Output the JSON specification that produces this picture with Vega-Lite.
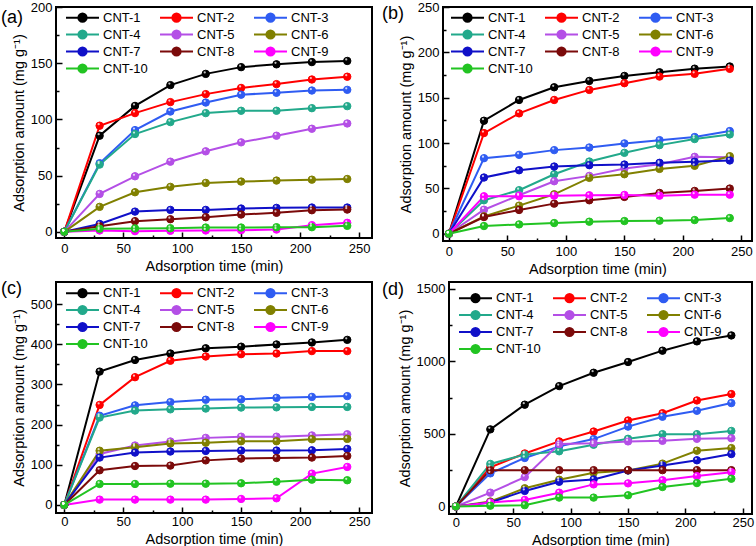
{
"$schema": "https://vega.github.io/schema/vega-lite/v6.json",
"background": "white",
"padding": 0,
"datasets": {
"a": [
{"s":"CNT-1","t":0,"v":0},{"s":"CNT-1","t":30,"v":85.5},{"s":"CNT-1","t":60,"v":112},{"s":"CNT-1","t":90,"v":130.5},{"s":"CNT-1","t":120,"v":140.5},{"s":"CNT-1","t":150,"v":146.5},{"s":"CNT-1","t":180,"v":149},{"s":"CNT-1","t":210,"v":151},{"s":"CNT-1","t":240,"v":152},
{"s":"CNT-2","t":0,"v":0},{"s":"CNT-2","t":30,"v":94.4},{"s":"CNT-2","t":60,"v":105.6},{"s":"CNT-2","t":90,"v":115.4},{"s":"CNT-2","t":120,"v":122.5},{"s":"CNT-2","t":150,"v":128},{"s":"CNT-2","t":180,"v":131.4},{"s":"CNT-2","t":210,"v":135.5},{"s":"CNT-2","t":240,"v":138},
{"s":"CNT-3","t":0,"v":0},{"s":"CNT-3","t":30,"v":61},{"s":"CNT-3","t":60,"v":90.5},{"s":"CNT-3","t":90,"v":107},{"s":"CNT-3","t":120,"v":115},{"s":"CNT-3","t":150,"v":122},{"s":"CNT-3","t":180,"v":123.7},{"s":"CNT-3","t":210,"v":125.7},{"s":"CNT-3","t":240,"v":126.3},
{"s":"CNT-4","t":0,"v":0},{"s":"CNT-4","t":30,"v":59.8},{"s":"CNT-4","t":60,"v":87},{"s":"CNT-4","t":90,"v":97.6},{"s":"CNT-4","t":120,"v":105.6},{"s":"CNT-4","t":150,"v":107.7},{"s":"CNT-4","t":180,"v":107.7},{"s":"CNT-4","t":210,"v":110},{"s":"CNT-4","t":240,"v":111.8},
{"s":"CNT-5","t":0,"v":0},{"s":"CNT-5","t":30,"v":33.7},{"s":"CNT-5","t":60,"v":49.4},{"s":"CNT-5","t":90,"v":62.4},{"s":"CNT-5","t":120,"v":71.6},{"s":"CNT-5","t":150,"v":79.6},{"s":"CNT-5","t":180,"v":85.5},{"s":"CNT-5","t":210,"v":91.7},{"s":"CNT-5","t":240,"v":96.4},
{"s":"CNT-6","t":0,"v":0},{"s":"CNT-6","t":30,"v":22.2},{"s":"CNT-6","t":60,"v":35.2},{"s":"CNT-6","t":90,"v":40},{"s":"CNT-6","t":120,"v":43.5},{"s":"CNT-6","t":150,"v":44.7},{"s":"CNT-6","t":180,"v":45.6},{"s":"CNT-6","t":210,"v":46.4},{"s":"CNT-6","t":240,"v":47},
{"s":"CNT-7","t":0,"v":0},{"s":"CNT-7","t":30,"v":7},{"s":"CNT-7","t":60,"v":18},{"s":"CNT-7","t":90,"v":19.5},{"s":"CNT-7","t":120,"v":19.5},{"s":"CNT-7","t":150,"v":20.7},{"s":"CNT-7","t":180,"v":21.3},{"s":"CNT-7","t":210,"v":21.6},{"s":"CNT-7","t":240,"v":21.6},
{"s":"CNT-8","t":0,"v":0},{"s":"CNT-8","t":30,"v":5},{"s":"CNT-8","t":60,"v":9.5},{"s":"CNT-8","t":90,"v":11.2},{"s":"CNT-8","t":120,"v":13},{"s":"CNT-8","t":150,"v":15.4},{"s":"CNT-8","t":180,"v":16.9},{"s":"CNT-8","t":210,"v":19.2},{"s":"CNT-8","t":240,"v":19.8},
{"s":"CNT-9","t":0,"v":0},{"s":"CNT-9","t":30,"v":1.2},{"s":"CNT-9","t":60,"v":0.6},{"s":"CNT-9","t":90,"v":0.9},{"s":"CNT-9","t":120,"v":1.2},{"s":"CNT-9","t":150,"v":1.5},{"s":"CNT-9","t":180,"v":2},{"s":"CNT-9","t":210,"v":5.9},{"s":"CNT-9","t":240,"v":8},
{"s":"CNT-10","t":0,"v":0},{"s":"CNT-10","t":30,"v":2.7},{"s":"CNT-10","t":60,"v":3},{"s":"CNT-10","t":90,"v":3.2},{"s":"CNT-10","t":120,"v":3.8},{"s":"CNT-10","t":150,"v":3.8},{"s":"CNT-10","t":180,"v":4.1},{"s":"CNT-10","t":210,"v":4.1},{"s":"CNT-10","t":240,"v":5.3}
],
"b": [
{"s":"CNT-1","t":0,"v":0},{"s":"CNT-1","t":30,"v":124.6},{"s":"CNT-1","t":60,"v":147.5},{"s":"CNT-1","t":90,"v":161.5},{"s":"CNT-1","t":120,"v":168.5},{"s":"CNT-1","t":150,"v":174},{"s":"CNT-1","t":180,"v":178},{"s":"CNT-1","t":210,"v":182},{"s":"CNT-1","t":240,"v":184.4},
{"s":"CNT-2","t":0,"v":0},{"s":"CNT-2","t":30,"v":111},{"s":"CNT-2","t":60,"v":132.7},{"s":"CNT-2","t":90,"v":147.5},{"s":"CNT-2","t":120,"v":158.6},{"s":"CNT-2","t":150,"v":166},{"s":"CNT-2","t":180,"v":173.3},{"s":"CNT-2","t":210,"v":176.3},{"s":"CNT-2","t":240,"v":181.8},
{"s":"CNT-3","t":0,"v":0},{"s":"CNT-3","t":30,"v":83.3},{"s":"CNT-3","t":60,"v":87},{"s":"CNT-3","t":90,"v":92.2},{"s":"CNT-3","t":120,"v":95.1},{"s":"CNT-3","t":150,"v":99.6},{"s":"CNT-3","t":180,"v":103.2},{"s":"CNT-3","t":210,"v":106.6},{"s":"CNT-3","t":240,"v":113.2},
{"s":"CNT-4","t":0,"v":0},{"s":"CNT-4","t":30,"v":36.9},{"s":"CNT-4","t":60,"v":48},{"s":"CNT-4","t":90,"v":65.6},{"s":"CNT-4","t":120,"v":79.6},{"s":"CNT-4","t":150,"v":89.2},{"s":"CNT-4","t":180,"v":97.7},{"s":"CNT-4","t":210,"v":104.4},{"s":"CNT-4","t":240,"v":109.5},
{"s":"CNT-5","t":0,"v":0},{"s":"CNT-5","t":30,"v":26.5},{"s":"CNT-5","t":60,"v":42.4},{"s":"CNT-5","t":90,"v":57.9},{"s":"CNT-5","t":120,"v":63.8},{"s":"CNT-5","t":150,"v":71.9},{"s":"CNT-5","t":180,"v":76.7},{"s":"CNT-5","t":210,"v":84.8},{"s":"CNT-5","t":240,"v":84.4},
{"s":"CNT-6","t":0,"v":0},{"s":"CNT-6","t":30,"v":19.2},{"s":"CNT-6","t":60,"v":31},{"s":"CNT-6","t":90,"v":43.5},{"s":"CNT-6","t":120,"v":61.6},{"s":"CNT-6","t":150,"v":65.6},{"s":"CNT-6","t":180,"v":71.5},{"s":"CNT-6","t":210,"v":74.9},{"s":"CNT-6","t":240,"v":85.5},
{"s":"CNT-7","t":0,"v":0},{"s":"CNT-7","t":30,"v":62},{"s":"CNT-7","t":60,"v":70},{"s":"CNT-7","t":90,"v":74.1},{"s":"CNT-7","t":120,"v":75.6},{"s":"CNT-7","t":150,"v":76.3},{"s":"CNT-7","t":180,"v":78.2},{"s":"CNT-7","t":210,"v":79.3},{"s":"CNT-7","t":240,"v":80.8},
{"s":"CNT-8","t":0,"v":0},{"s":"CNT-8","t":30,"v":18.4},{"s":"CNT-8","t":60,"v":26.2},{"s":"CNT-8","t":90,"v":33.2},{"s":"CNT-8","t":120,"v":36.9},{"s":"CNT-8","t":150,"v":40.6},{"s":"CNT-8","t":180,"v":45},{"s":"CNT-8","t":210,"v":47.2},{"s":"CNT-8","t":240,"v":49.8},
{"s":"CNT-9","t":0,"v":0},{"s":"CNT-9","t":30,"v":41.3},{"s":"CNT-9","t":60,"v":41.3},{"s":"CNT-9","t":90,"v":42},{"s":"CNT-9","t":120,"v":42.4},{"s":"CNT-9","t":150,"v":42.8},{"s":"CNT-9","t":180,"v":42},{"s":"CNT-9","t":210,"v":43.1},{"s":"CNT-9","t":240,"v":43.1},
{"s":"CNT-10","t":0,"v":0},{"s":"CNT-10","t":30,"v":8.5},{"s":"CNT-10","t":60,"v":10.3},{"s":"CNT-10","t":90,"v":11.8},{"s":"CNT-10","t":120,"v":13.3},{"s":"CNT-10","t":150,"v":14},{"s":"CNT-10","t":180,"v":14.4},{"s":"CNT-10","t":210,"v":15.1},{"s":"CNT-10","t":240,"v":17.3}
],
"c": [
{"s":"CNT-1","t":0,"v":0},{"s":"CNT-1","t":30,"v":332},{"s":"CNT-1","t":60,"v":361},{"s":"CNT-1","t":90,"v":377},{"s":"CNT-1","t":120,"v":390},{"s":"CNT-1","t":150,"v":394},{"s":"CNT-1","t":180,"v":399.5},{"s":"CNT-1","t":210,"v":404.5},{"s":"CNT-1","t":240,"v":411},
{"s":"CNT-2","t":0,"v":0},{"s":"CNT-2","t":30,"v":249},{"s":"CNT-2","t":60,"v":318},{"s":"CNT-2","t":90,"v":359},{"s":"CNT-2","t":120,"v":369.6},{"s":"CNT-2","t":150,"v":375.4},{"s":"CNT-2","t":180,"v":377},{"s":"CNT-2","t":210,"v":383},{"s":"CNT-2","t":240,"v":383},
{"s":"CNT-3","t":0,"v":0},{"s":"CNT-3","t":30,"v":222},{"s":"CNT-3","t":60,"v":248},{"s":"CNT-3","t":90,"v":256},{"s":"CNT-3","t":120,"v":262},{"s":"CNT-3","t":150,"v":263},{"s":"CNT-3","t":180,"v":266.6},{"s":"CNT-3","t":210,"v":269},{"s":"CNT-3","t":240,"v":271},
{"s":"CNT-4","t":0,"v":0},{"s":"CNT-4","t":30,"v":217.6},{"s":"CNT-4","t":60,"v":235},{"s":"CNT-4","t":90,"v":238},{"s":"CNT-4","t":120,"v":240},{"s":"CNT-4","t":150,"v":242.5},{"s":"CNT-4","t":180,"v":243},{"s":"CNT-4","t":210,"v":244},{"s":"CNT-4","t":240,"v":244},
{"s":"CNT-5","t":0,"v":0},{"s":"CNT-5","t":30,"v":127},{"s":"CNT-5","t":60,"v":148},{"s":"CNT-5","t":90,"v":158},{"s":"CNT-5","t":120,"v":167},{"s":"CNT-5","t":150,"v":170},{"s":"CNT-5","t":180,"v":170},{"s":"CNT-5","t":210,"v":173},{"s":"CNT-5","t":240,"v":176},
{"s":"CNT-6","t":0,"v":0},{"s":"CNT-6","t":30,"v":135},{"s":"CNT-6","t":60,"v":143.7},{"s":"CNT-6","t":90,"v":153},{"s":"CNT-6","t":120,"v":155},{"s":"CNT-6","t":150,"v":158.6},{"s":"CNT-6","t":180,"v":158.6},{"s":"CNT-6","t":210,"v":163.6},{"s":"CNT-6","t":240,"v":164.5},
{"s":"CNT-7","t":0,"v":0},{"s":"CNT-7","t":30,"v":118},{"s":"CNT-7","t":60,"v":130.4},{"s":"CNT-7","t":90,"v":133},{"s":"CNT-7","t":120,"v":134.5},{"s":"CNT-7","t":150,"v":135.4},{"s":"CNT-7","t":180,"v":135.4},{"s":"CNT-7","t":210,"v":136},{"s":"CNT-7","t":240,"v":139.5},
{"s":"CNT-8","t":0,"v":0},{"s":"CNT-8","t":30,"v":86.4},{"s":"CNT-8","t":60,"v":97},{"s":"CNT-8","t":90,"v":98},{"s":"CNT-8","t":120,"v":111},{"s":"CNT-8","t":150,"v":115.4},{"s":"CNT-8","t":180,"v":117},{"s":"CNT-8","t":210,"v":118},{"s":"CNT-8","t":240,"v":122},
{"s":"CNT-9","t":0,"v":0},{"s":"CNT-9","t":30,"v":13.3},{"s":"CNT-9","t":60,"v":13.3},{"s":"CNT-9","t":90,"v":13.3},{"s":"CNT-9","t":120,"v":13.3},{"s":"CNT-9","t":150,"v":15},{"s":"CNT-9","t":180,"v":16.6},{"s":"CNT-9","t":210,"v":78},{"s":"CNT-9","t":240,"v":94.7},
{"s":"CNT-10","t":0,"v":0},{"s":"CNT-10","t":30,"v":52.3},{"s":"CNT-10","t":60,"v":52.3},{"s":"CNT-10","t":90,"v":53},{"s":"CNT-10","t":120,"v":53},{"s":"CNT-10","t":150,"v":54},{"s":"CNT-10","t":180,"v":58},{"s":"CNT-10","t":210,"v":63},{"s":"CNT-10","t":240,"v":61.5}
],
"d": [
{"s":"CNT-1","t":0,"v":0},{"s":"CNT-1","t":30,"v":531},{"s":"CNT-1","t":60,"v":701},{"s":"CNT-1","t":90,"v":829},{"s":"CNT-1","t":120,"v":921},{"s":"CNT-1","t":150,"v":995},{"s":"CNT-1","t":180,"v":1073},{"s":"CNT-1","t":210,"v":1137},{"s":"CNT-1","t":240,"v":1178},
{"s":"CNT-2","t":0,"v":0},{"s":"CNT-2","t":30,"v":270},{"s":"CNT-2","t":60,"v":365},{"s":"CNT-2","t":90,"v":448},{"s":"CNT-2","t":120,"v":516},{"s":"CNT-2","t":150,"v":592},{"s":"CNT-2","t":180,"v":642},{"s":"CNT-2","t":210,"v":730},{"s":"CNT-2","t":240,"v":774},
{"s":"CNT-3","t":0,"v":0},{"s":"CNT-3","t":30,"v":228},{"s":"CNT-3","t":60,"v":334},{"s":"CNT-3","t":90,"v":414},{"s":"CNT-3","t":120,"v":464},{"s":"CNT-3","t":150,"v":550},{"s":"CNT-3","t":180,"v":618},{"s":"CNT-3","t":210,"v":659},{"s":"CNT-3","t":240,"v":712},
{"s":"CNT-4","t":0,"v":0},{"s":"CNT-4","t":30,"v":293},{"s":"CNT-4","t":60,"v":357},{"s":"CNT-4","t":90,"v":380},{"s":"CNT-4","t":120,"v":425},{"s":"CNT-4","t":150,"v":466},{"s":"CNT-4","t":180,"v":498},{"s":"CNT-4","t":210,"v":498},{"s":"CNT-4","t":240,"v":520},
{"s":"CNT-5","t":0,"v":0},{"s":"CNT-5","t":30,"v":95},{"s":"CNT-5","t":60,"v":202},{"s":"CNT-5","t":90,"v":430},{"s":"CNT-5","t":120,"v":436},{"s":"CNT-5","t":150,"v":448},{"s":"CNT-5","t":180,"v":452},{"s":"CNT-5","t":210,"v":466},{"s":"CNT-5","t":240,"v":470},
{"s":"CNT-6","t":0,"v":0},{"s":"CNT-6","t":30,"v":34},{"s":"CNT-6","t":60,"v":125},{"s":"CNT-6","t":90,"v":184},{"s":"CNT-6","t":120,"v":232},{"s":"CNT-6","t":150,"v":248},{"s":"CNT-6","t":180,"v":295},{"s":"CNT-6","t":210,"v":384},{"s":"CNT-6","t":240,"v":402},
{"s":"CNT-7","t":0,"v":0},{"s":"CNT-7","t":30,"v":27},{"s":"CNT-7","t":60,"v":107},{"s":"CNT-7","t":90,"v":170},{"s":"CNT-7","t":120,"v":186},{"s":"CNT-7","t":150,"v":248},{"s":"CNT-7","t":180,"v":282},{"s":"CNT-7","t":210,"v":318},{"s":"CNT-7","t":240,"v":361},
{"s":"CNT-8","t":0,"v":0},{"s":"CNT-8","t":30,"v":250},{"s":"CNT-8","t":60,"v":250},{"s":"CNT-8","t":90,"v":250},{"s":"CNT-8","t":120,"v":250},{"s":"CNT-8","t":150,"v":250},{"s":"CNT-8","t":180,"v":250},{"s":"CNT-8","t":210,"v":250},{"s":"CNT-8","t":240,"v":250},
{"s":"CNT-9","t":0,"v":0},{"s":"CNT-9","t":30,"v":27},{"s":"CNT-9","t":60,"v":45},{"s":"CNT-9","t":90,"v":95},{"s":"CNT-9","t":120,"v":152},{"s":"CNT-9","t":150,"v":159},{"s":"CNT-9","t":180,"v":180},{"s":"CNT-9","t":210,"v":209},{"s":"CNT-9","t":240,"v":236},
{"s":"CNT-10","t":0,"v":0},{"s":"CNT-10","t":30,"v":5},{"s":"CNT-10","t":60,"v":9},{"s":"CNT-10","t":90,"v":61},{"s":"CNT-10","t":120,"v":61},{"s":"CNT-10","t":150,"v":77},{"s":"CNT-10","t":180,"v":134},{"s":"CNT-10","t":210,"v":161},{"s":"CNT-10","t":240,"v":191}
]
},
"vconcat": [
{"hconcat": [
{
"width": 316, "height": 231,
"data": {"name": "a"},
"title": {"text": "(a)", "offset": -26, "dx": -55},
"encoding": {
"x": {"field": "t", "type": "quantitative", "title": "Adsorption time (min)", "scale": {"domain": [-7, 261], "nice": false, "zero": false}, "axis": {"values": [0,25,50,75,100,125,150,175,200,225,250], "labelExpr": "datum.value % 50 === 0 ? datum.label : ''", "tickSize": {"condition": {"test": "datum.value % 50 === 0", "value": -6}, "value": -3}}},
"y": {"field": "v", "type": "quantitative", "title": "Adsorption amount (mg g⁻¹)", "scale": {"domain": [-5.5, 200], "nice": false, "zero": false}, "axis": {"values": [0,25,50,75,100,125,150,175,200], "labelExpr": "datum.value % 50 === 0 ? datum.label : ''", "tickSize": {"condition": {"test": "datum.value % 50 === 0", "value": -6}, "value": -3}}}
},
"layer": [
{"mark": {"type": "line", "strokeWidth": 2}, "encoding": {"stroke": {"field": "s", "type": "nominal", "title": null, "scale": {"domain": ["CNT-1","CNT-2","CNT-3","CNT-4","CNT-5","CNT-6","CNT-7","CNT-8","CNT-9","CNT-10"], "range": ["#000000","#ff0000","#2f5cf2","#22a98b","#b44fe6","#808000","#1010c8","#7b0a0a","#ff00ff","#22c422"]}, "legend": {"orient": "none", "legendX": 9, "legendY": 4}}}},
{"mark": {"type": "point", "filled": true, "size": 55, "opacity": 1, "strokeWidth": 1}, "encoding": {"fill": {"field": "s", "type": "nominal", "title": null, "scale": {"domain": ["CNT-1","CNT-2","CNT-3","CNT-4","CNT-5","CNT-6","CNT-7","CNT-8","CNT-9","CNT-10"], "range": ["#000000","#ff0000","#2f5cf2","#22a98b","#b44fe6","#808000","#1010c8","#7b0a0a","#ff00ff","#22c422"]}, "legend": {"orient": "none", "legendX": 9, "legendY": 4}}, "stroke": {"field": "s", "type": "nominal", "title": null, "legend": {"orient": "none", "legendX": 9, "legendY": 4}}}},
{"mark": {"type": "point", "filled": true, "size": 5, "color": "#ffffff", "opacity": 0.75, "xOffset": -1, "yOffset": -1.5}}
]
},
{
"width": 309, "height": 234,
"data": {"name": "b"},
"title": {"text": "(b)", "offset": -22, "dx": -61},
"encoding": {
"x": {"field": "t", "type": "quantitative", "title": "Adsorption time (min)", "scale": {"domain": [-5, 259], "nice": false, "zero": false}, "axis": {"values": [0,25,50,75,100,125,150,175,200,225,250], "labelExpr": "datum.value % 50 === 0 ? datum.label : ''", "tickSize": {"condition": {"test": "datum.value % 50 === 0", "value": -6}, "value": -3}}},
"y": {"field": "v", "type": "quantitative", "title": "Adsorption amount (mg g⁻¹)", "scale": {"domain": [-8, 250], "nice": false, "zero": false}, "axis": {"values": [0,25,50,75,100,125,150,175,200,225,250], "labelExpr": "datum.value % 50 === 0 ? datum.label : ''", "tickSize": {"condition": {"test": "datum.value % 50 === 0", "value": -6}, "value": -3}}}
},
"layer": [
{"mark": {"type": "line", "strokeWidth": 2}, "encoding": {"stroke": {"field": "s", "type": "nominal", "title": null, "scale": {"domain": ["CNT-1","CNT-2","CNT-3","CNT-4","CNT-5","CNT-6","CNT-7","CNT-8","CNT-9","CNT-10"], "range": ["#000000","#ff0000","#2f5cf2","#22a98b","#b44fe6","#808000","#1010c8","#7b0a0a","#ff00ff","#22c422"]}, "legend": {"orient": "none", "legendX": 7, "legendY": 4}}}},
{"mark": {"type": "point", "filled": true, "size": 55, "opacity": 1, "strokeWidth": 1}, "encoding": {"fill": {"field": "s", "type": "nominal", "title": null, "scale": {"domain": ["CNT-1","CNT-2","CNT-3","CNT-4","CNT-5","CNT-6","CNT-7","CNT-8","CNT-9","CNT-10"], "range": ["#000000","#ff0000","#2f5cf2","#22a98b","#b44fe6","#808000","#1010c8","#7b0a0a","#ff00ff","#22c422"]}, "legend": {"orient": "none", "legendX": 7, "legendY": 4}}, "stroke": {"field": "s", "type": "nominal", "title": null, "legend": {"orient": "none", "legendX": 7, "legendY": 4}}}},
{"mark": {"type": "point", "filled": true, "size": 5, "color": "#ffffff", "opacity": 0.75, "xOffset": -1, "yOffset": -1.5}}
]
}
], "spacing": 8, "resolve": {"scale": {"stroke": "independent", "fill": "independent"}, "legend": {"stroke": "independent", "fill": "independent"}}},
{"hconcat": [
{
"width": 316, "height": 231,
"data": {"name": "c"},
"title": {"text": "(c)", "offset": -16, "dx": -55},
"encoding": {
"x": {"field": "t", "type": "quantitative", "title": "Adsorption time (min)", "scale": {"domain": [-7, 261], "nice": false, "zero": false}, "axis": {"labelPadding": 8, "values": [0,25,50,75,100,125,150,175,200,225,250], "labelExpr": "datum.value % 50 === 0 ? datum.label : ''", "tickSize": {"condition": {"test": "datum.value % 50 === 0", "value": -6}, "value": -3}}},
"y": {"field": "v", "type": "quantitative", "title": "Adsorption amount (mg g⁻¹)", "scale": {"domain": [-20, 555], "nice": false, "zero": false}, "axis": {"values": [0,50,100,150,200,250,300,350,400,450,500], "labelExpr": "datum.value % 100 === 0 ? datum.label : ''", "tickSize": {"condition": {"test": "datum.value % 100 === 0", "value": -6}, "value": -3}}}
},
"layer": [
{"mark": {"type": "line", "strokeWidth": 2}, "encoding": {"stroke": {"field": "s", "type": "nominal", "title": null, "scale": {"domain": ["CNT-1","CNT-2","CNT-3","CNT-4","CNT-5","CNT-6","CNT-7","CNT-8","CNT-9","CNT-10"], "range": ["#000000","#ff0000","#2f5cf2","#22a98b","#b44fe6","#808000","#1010c8","#7b0a0a","#ff00ff","#22c422"]}, "legend": {"orient": "none", "legendX": 9, "legendY": 4.5}}}},
{"mark": {"type": "point", "filled": true, "size": 55, "opacity": 1, "strokeWidth": 1}, "encoding": {"fill": {"field": "s", "type": "nominal", "title": null, "scale": {"domain": ["CNT-1","CNT-2","CNT-3","CNT-4","CNT-5","CNT-6","CNT-7","CNT-8","CNT-9","CNT-10"], "range": ["#000000","#ff0000","#2f5cf2","#22a98b","#b44fe6","#808000","#1010c8","#7b0a0a","#ff00ff","#22c422"]}, "legend": {"orient": "none", "legendX": 9, "legendY": 4.5}}, "stroke": {"field": "s", "type": "nominal", "title": null, "legend": {"orient": "none", "legendX": 9, "legendY": 4.5}}}},
{"mark": {"type": "point", "filled": true, "size": 5, "color": "#ffffff", "opacity": 0.75, "xOffset": -1, "yOffset": -1.5}}
]
},
{
"width": 303, "height": 232,
"data": {"name": "d"},
"title": {"text": "(d)", "offset": -17, "dx": -67},
"encoding": {
"x": {"field": "t", "type": "quantitative", "title": "Adsorption time (min)", "scale": {"domain": [-6, 258], "nice": false, "zero": false}, "axis": {"labelPadding": 8, "values": [0,25,50,75,100,125,150,175,200,225,250], "labelExpr": "datum.value % 50 === 0 ? datum.label : ''", "tickSize": {"condition": {"test": "datum.value % 50 === 0", "value": -6}, "value": -3}}},
"y": {"field": "v", "type": "quantitative", "title": "Adsorption amount (mg g⁻¹)", "scale": {"domain": [-52, 1546], "nice": false, "zero": false}, "axis": {"format": "d", "values": [0,250,500,750,1000,1250,1500], "labelExpr": "datum.value % 500 === 0 ? datum.label : ''", "tickSize": {"condition": {"test": "datum.value % 500 === 0", "value": -6}, "value": -3}}}
},
"layer": [
{"mark": {"type": "line", "strokeWidth": 2}, "encoding": {"stroke": {"field": "s", "type": "nominal", "title": null, "scale": {"domain": ["CNT-1","CNT-2","CNT-3","CNT-4","CNT-5","CNT-6","CNT-7","CNT-8","CNT-9","CNT-10"], "range": ["#000000","#ff0000","#2f5cf2","#22a98b","#b44fe6","#808000","#1010c8","#7b0a0a","#ff00ff","#22c422"]}, "legend": {"orient": "none", "legendX": 9, "legendY": 9.5}}}},
{"mark": {"type": "point", "filled": true, "size": 55, "opacity": 1, "strokeWidth": 1}, "encoding": {"fill": {"field": "s", "type": "nominal", "title": null, "scale": {"domain": ["CNT-1","CNT-2","CNT-3","CNT-4","CNT-5","CNT-6","CNT-7","CNT-8","CNT-9","CNT-10"], "range": ["#000000","#ff0000","#2f5cf2","#22a98b","#b44fe6","#808000","#1010c8","#7b0a0a","#ff00ff","#22c422"]}, "legend": {"orient": "none", "legendX": 9, "legendY": 9.5}}, "stroke": {"field": "s", "type": "nominal", "title": null, "legend": {"orient": "none", "legendX": 9, "legendY": 9.5}}}},
{"mark": {"type": "point", "filled": true, "size": 5, "color": "#ffffff", "opacity": 0.75, "xOffset": -1, "yOffset": -1.5}}
]
}
], "spacing": 8, "resolve": {"scale": {"stroke": "independent", "fill": "independent"}, "legend": {"stroke": "independent", "fill": "independent"}}}
],
"spacing": 2,
"resolve": {"scale": {"stroke": "independent", "fill": "independent"}, "legend": {"stroke": "independent", "fill": "independent"}},
"config": {
"view": {"stroke": "#000000", "strokeWidth": 2},
"font": "Liberation Sans",
"axis": {"domain": false, "grid": false, "labelFont": "Liberation Sans", "labelFontSize": 13, "labelColor": "#000000", "titleFont": "Liberation Sans", "titleFontSize": 14.5, "titleFontWeight": "normal", "titleColor": "#000000", "tickColor": "#000000", "tickWidth": 1.5, "labelOverlap": false, "labelFlush": false, "labelPadding": 10},
"axisX": {"titlePadding": 1},
"axisY": {"titlePadding": 4},
"legend": {"direction": "horizontal", "columns": 3, "gridAlign": "all", "symbolType": "M-4,0L4,0M-1,0A1,1,0,1,1,1,0A1,1,0,1,1,-1,0Z", "symbolSize": 68, "symbolStrokeWidth": 2, "symbolOffset": 11, "labelOffset": 14, "labelFont": "Liberation Sans", "labelFontSize": 13, "labelColor": "#000000", "rowPadding": 0, "columnPadding": 8, "padding": 0, "symbolOpacity": 1},
"title": {"font": "Liberation Sans", "fontSize": 18, "fontWeight": "normal", "color": "#000000", "anchor": "start", "frame": "group"}
}
}
